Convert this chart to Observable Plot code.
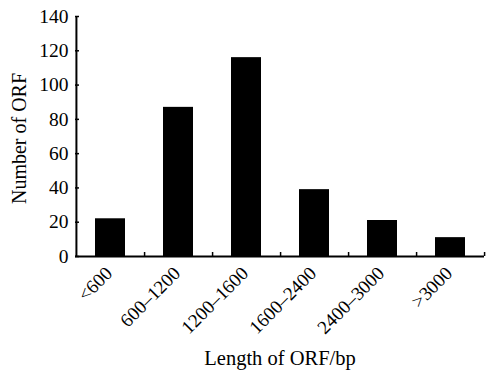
<!DOCTYPE html>
<html>
<head>
<meta charset="utf-8">
<script src="https://cdn.jsdelivr.net/npm/d3@7"></script>
<script src="https://cdn.jsdelivr.net/npm/@observablehq/plot@0.6"></script>
<style>
  html, body { margin: 0; padding: 0; background: #fff; }
  svg { display: block; }
</style>
</head>
<body>
<div id="chart"></div>
<script>
const categories = ["<600", "600\u20131200", "1200\u20131600", "1600\u20132400", "2400\u20133000", ">3000"];
const counts = [22, 87, 116, 39, 21, 11];
const yTicks = [0, 20, 40, 60, 80, 100, 120, 140];
const xTitle = "Length of ORF/bp";
const yTitle = "Number of ORF";

const data = categories.map((c, i) => ({cat: c, count: counts[i]}));

const W = 486, H = 378, mL = 75, mR = 2, mT = 16, mB = 122;
const step = (W - mL - mR) / categories.length;
const font = "'Liberation Serif', 'Times New Roman', serif";

const chart = Plot.plot({
  width: W,
  height: H,
  marginLeft: mL,
  marginRight: mR,
  marginTop: mT,
  marginBottom: mB,
  style: {fontFamily: font, color: "#000", background: "#fff"},
  x: {domain: categories, paddingInner: 0.56, paddingOuter: 0.28, axis: null},
  y: {domain: [0, 140], axis: null},
  marks: [
    Plot.barY(data, {x: "cat", y: "count", fill: "#000"}),
    Plot.axisY({ticks: yTicks, tickSize: 0, tickPadding: 7, fontSize: 19.5, label: null}),
    Plot.tickY(yTicks, {y: d => d, insetRight: W - mL - mR - 4, stroke: "#000", strokeWidth: 1.5}),
    Plot.tickX(categories, {x: d => d, dx: step / 2, insetTop: H - mT - mB - 4, stroke: "#000", strokeWidth: 1.5}),
    Plot.ruleY([0], {stroke: "#000", strokeWidth: 2}),
    Plot.ruleX([categories[0]], {dx: -step / 2, y1: 0, y2: 140, stroke: "#000", strokeWidth: 2}),
    Plot.text(categories, {x: d => d, frameAnchor: "bottom", text: d => d, rotate: -45,
      textAnchor: "end", lineAnchor: "bottom", dx: 3, dy: 18, fontSize: 19}),
    Plot.text([xTitle], {frameAnchor: "bottom", text: d => d, dy: 108, lineAnchor: "bottom", fontSize: 20.5}),
    Plot.text([yTitle], {frameAnchor: "left", text: d => d, rotate: -90, dx: -55.5, dy: 2,
      textAnchor: "middle", lineAnchor: "middle", fontSize: 20})
  ]
});
document.getElementById("chart").appendChild(chart);
</script>
</body>
</html>
